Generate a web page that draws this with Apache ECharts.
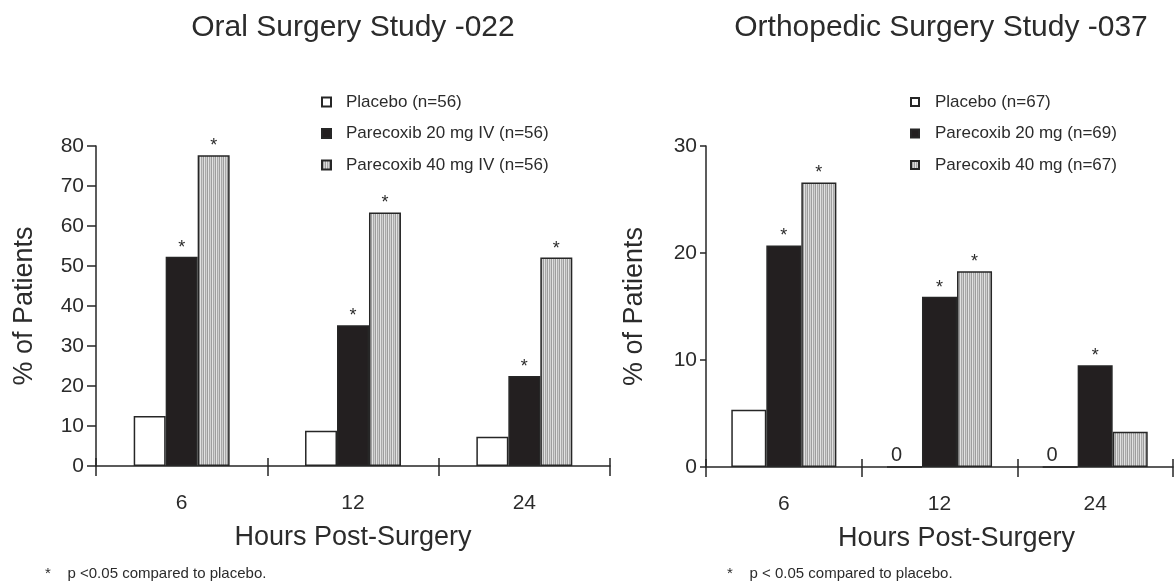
<!DOCTYPE html>
<html>
<head>
<meta charset="utf-8">
<script src="https://cdn.jsdelivr.net/npm/echarts@6/dist/echarts.min.js"></script>
<style>
html,body{margin:0;padding:0;background:#fff;}
#chart{width:1175px;height:583px;}
</style>
</head>
<body>
<div id="chart"></div>
<script>
// ---- data ----
const categories = ['6', '12', '24'];
const oralNames = ['Placebo (n=56)', 'Parecoxib 20 mg IV (n=56)', 'Parecoxib 40 mg IV (n=56)'];
const orthoNames = ['Placebo (n=67)', 'Parecoxib 20 mg (n=69)', 'Parecoxib 40 mg (n=67)'];
const oralPlacebo = [12.5, 8.8, 7.3];
const oral20 = [52.3, 35.2, 22.5];
const oral40 = [77.7, 63.4, 52.1];
const orthoPlacebo = [5.35, 0, 0];
const ortho20 = [20.7, 15.9, 9.5];
const ortho40 = [26.6, 18.3, 3.3];
const oralSig20 = [true, true, true];
const oralSig40 = [true, true, true];
const orthoSig20 = [true, true, true];
const orthoSig40 = [true, true, false];
const oralYMax = 80, orthoYMax = 30, yInterval = 10;
const titles = ['Oral Surgery Study -022', 'Orthopedic Surgery Study -037'];
const footnotes = ['*    p <0.05 compared to placebo.', '*    p < 0.05 compared to placebo.'];
const yName = '% of Patients';
const xName = 'Hours Post-Surgery';

// ---- styles ----
const FONT = 'Liberation Sans, Arial, sans-serif';
const TXT = '#2b2b2b';
const EDGE = '#262626';

function stripePattern() {
  const c = document.createElement('canvas');
  c.width = 4; c.height = 4;
  const ctx = c.getContext('2d');
  const cols = ['#e2e2e2', '#a9a9a9', '#d0d0d0', '#9d9d9d'];
  cols.forEach((col, i) => { ctx.fillStyle = col; ctx.fillRect(i, 0, 1, 4); });
  return c;
}
const stripe = { image: stripePattern(), repeat: 'repeat' };

const grids = [
  { left: 96, top: 146, width: 514, height: 320 },
  { left: 706, top: 146, width: 467, height: 321 }
];

function xAxes(gi, nameOffset) {
  return [
    {
      type: 'category', gridIndex: gi, data: categories,
      axisLine: { show: true, lineStyle: { color: EDGE, width: 1.5 } },
      axisTick: { show: true, length: 10, lineStyle: { color: EDGE, width: 1.5 } },
      axisLabel: { color: TXT, fontSize: 21, fontFamily: FONT, margin: 27 },
      name: xName, nameLocation: 'middle', nameGap: 58,
      nameTextStyle: { color: TXT, fontSize: 27, fontFamily: FONT, padding: [0, 0, 0, nameOffset] },
      splitLine: { show: false }
    },
    {
      type: 'category', gridIndex: gi, data: categories, position: 'bottom',
      axisLine: { show: false },
      axisTick: { show: true, inside: true, length: 8, lineStyle: { color: EDGE, width: 1.5 } },
      axisLabel: { show: false },
      splitLine: { show: false }
    }
  ];
}

function yAxis(gi, max, margin, tickLen) {
  return {
    type: 'value', gridIndex: gi, min: 0, max: max, interval: yInterval,
    axisLine: { show: true, lineStyle: { color: EDGE, width: 1.5 } },
    axisTick: { show: true, length: tickLen, lineStyle: { color: EDGE, width: 1.5 } },
    axisLabel: { color: TXT, fontSize: 21, fontFamily: FONT, margin: margin },
    splitLine: { show: false },
    name: yName, nameLocation: 'middle', nameGap: 58, nameRotate: 90,
    nameTextStyle: { color: TXT, fontSize: 27, fontFamily: FONT }
  };
}

function starLabel(sig) {
  return {
    show: true, position: 'top', distance: 0, color: TXT, fontSize: 18, fontFamily: FONT,
    formatter: p => (sig[p.dataIndex] ? '*' : '')
  };
}

function bars(gi, names, placebo, d20, d40, sig20, sig40, gap, zeroLabel) {
  const xi = gi * 2, yi = gi;
  const common = { type: 'bar', xAxisIndex: xi, yAxisIndex: yi, barGap: '0%', barCategoryGap: gap, animation: false };
  return [
    Object.assign({}, common, {
      name: names[0], data: placebo,
      itemStyle: { color: '#ffffff', borderColor: EDGE, borderWidth: 1.5 },
      label: zeroLabel ? {
        show: true, position: 'top', distance: 1, offset: [-8, 0], color: TXT, fontSize: 20, fontFamily: FONT,
        formatter: p => (p.value === 0 ? '0' : '')
      } : { show: false }
    }),
    Object.assign({}, common, {
      name: names[1], data: d20,
      itemStyle: { color: '#231f20', borderColor: EDGE, borderWidth: 1.5 },
      label: starLabel(sig20)
    }),
    Object.assign({}, common, {
      name: names[2], data: d40,
      itemStyle: { color: stripe, borderColor: EDGE, borderWidth: 1.5 },
      label: starLabel(sig40)
    })
  ];
}

function legend(names, left, iconSize, pad) {
  return {
    orient: 'vertical', left: left, top: 88, itemWidth: iconSize, itemHeight: iconSize,
    itemGap: 13.5, selectedMode: false, data: names, icon: 'rect',
    textStyle: { color: TXT, fontSize: 17, fontFamily: FONT, lineHeight: 18, padding: [0, 0, 0, pad] }
  };
}

const chart = echarts.init(document.getElementById('chart'), null, { renderer: 'canvas' });
chart.setOption({
  backgroundColor: '#ffffff',
  animation: false,
  title: [
    { text: titles[0], left: 348, top: 8, textAlign: 'center', textStyle: { color: TXT, fontSize: 30, fontWeight: 'normal', fontFamily: FONT } },
    { text: titles[1], left: 936, top: 8, textAlign: 'center', textStyle: { color: TXT, fontSize: 30, fontWeight: 'normal', fontFamily: FONT } },
    { text: footnotes[0], left: 40, top: 561, textStyle: { color: TXT, fontSize: 15, fontWeight: 'normal', fontFamily: FONT } },
    { text: footnotes[1], left: 722, top: 561, textStyle: { color: TXT, fontSize: 15, fontWeight: 'normal', fontFamily: FONT } }
  ],
  legend: [legend(oralNames, 316, 9, 10), legend(orthoNames, 905, 8, 11)],
  grid: grids,
  xAxis: xAxes(0, 0).concat(xAxes(1, 34)),
  yAxis: [yAxis(0, oralYMax, 12, 9), yAxis(1, orthoYMax, 9, 6)],
  series: bars(0, oralNames, oralPlacebo, oral20, oral40, oralSig20, oralSig40, '44%', false)
    .concat(bars(1, orthoNames, orthoPlacebo, ortho20, ortho40, orthoSig20, orthoSig40, '32.5%', true))
});
</script>
</body>
</html>
